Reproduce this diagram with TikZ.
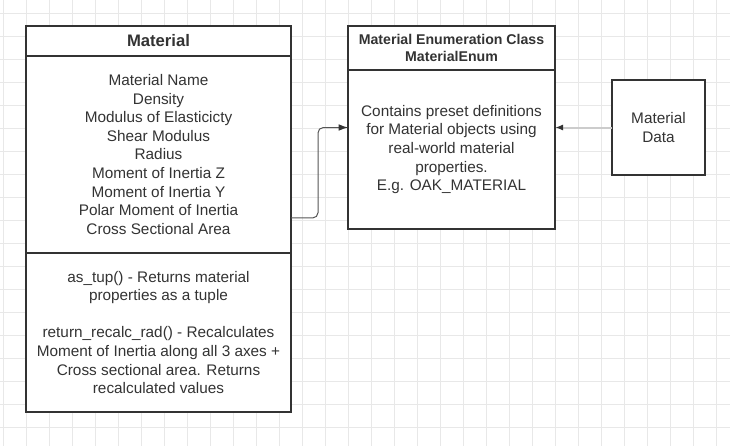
\documentclass[tikz,border=0pt]{standalone}
\usepackage{fontspec}
\setmainfont{Liberation Sans}
\usetikzlibrary{positioning,arrows.meta}
\definecolor{inkgray}{HTML}{333333}
\definecolor{gridgray}{HTML}{E8E8E8}
\definecolor{linkgray}{HTML}{CCCCCC}
\definecolor{wiregray}{HTML}{555555}

\begin{document}
\begin{tikzpicture}[x=0.75pt,y=-0.75pt,
    every node/.style={inner sep=0pt,outer sep=0pt,text=inkgray,align=center,
      font=\fontsize{11.5}{13.9}\selectfont},
    classbox/.style={draw=inkgray,line width=0.9pt,fill=white,minimum width=#1},
    gridline/.style={draw=gridgray,line width=0.75pt},
    classlink/.style={draw=wiregray,line width=0.75pt,rounded corners=4pt,
      -{Latex[length=7pt,width=5pt,color=inkgray]}},
    datalink/.style={draw=linkgray,line width=1.5pt,
      -{Latex[length=6pt,width=4.5pt,color=inkgray]}}]
    \useasboundingbox[fill=white] (0,0) rectangle (730,446);
    % background grid
    \foreach \gx in {0,...,31}
      \draw[gridline] (3.5+23*\gx,0) -- (3.5+23*\gx,446);
    \foreach \gy in {0,...,18}
      \draw[gridline] (0,13.5+23*\gy) -- (730,13.5+23*\gy);
    % Material class
    \node[classbox=198.75pt,minimum height=22.5pt,anchor=north west,
      font=\fontsize{12.5}{15}\selectfont\bfseries] (mat) at (26,26) {Material};
    \node[classbox=198.75pt,minimum height=147.75pt,below=0pt of mat] (matattr)
      {Material Name\\Density\\Modulus of Elasticicty\\Shear Modulus\\Radius\\
       Moment of Inertia Z\\Moment of Inertia Y\\Polar Moment of Inertia\\
       Cross Sectional Area};
    \node[classbox=198.75pt,minimum height=119.25pt,below=0pt of matattr] (matmeth)
      {as\_tup() - Returns material\\properties as a tuple\\\mbox{}\\
       return\_recalc\_rad() - Recalculates\\Moment of Inertia along all 3 axes +\\
       Cross sectional area. Returns\\recalculated values};
    % enumeration class
    \node[classbox=155.25pt,minimum height=33pt,anchor=north west,
      font=\fontsize{10.6}{12.75}\selectfont\bfseries] (enum) at (348,26)
      {Material Enumeration Class\\MaterialEnum};
    \node[classbox=155.25pt,minimum height=119.25pt,below=0pt of enum] (enumbody)
      {Contains preset definitions\\for Material objects using\\real-world material\\
       properties.\\E.g. OAK\_MATERIAL};
    % data source
    \node[classbox=69.75pt,minimum height=71.25pt,anchor=north west] (datab) at (612,80)
      {Material\\Data};
    \draw[classlink] ([yshift=-47.6pt]matattr.east) -- ++(27,0) |- (enumbody.west |- datab.west);
    \draw[datalink] (datab.west) -- (enumbody.east |- datab.west);
  \end{tikzpicture}
\end{document}
